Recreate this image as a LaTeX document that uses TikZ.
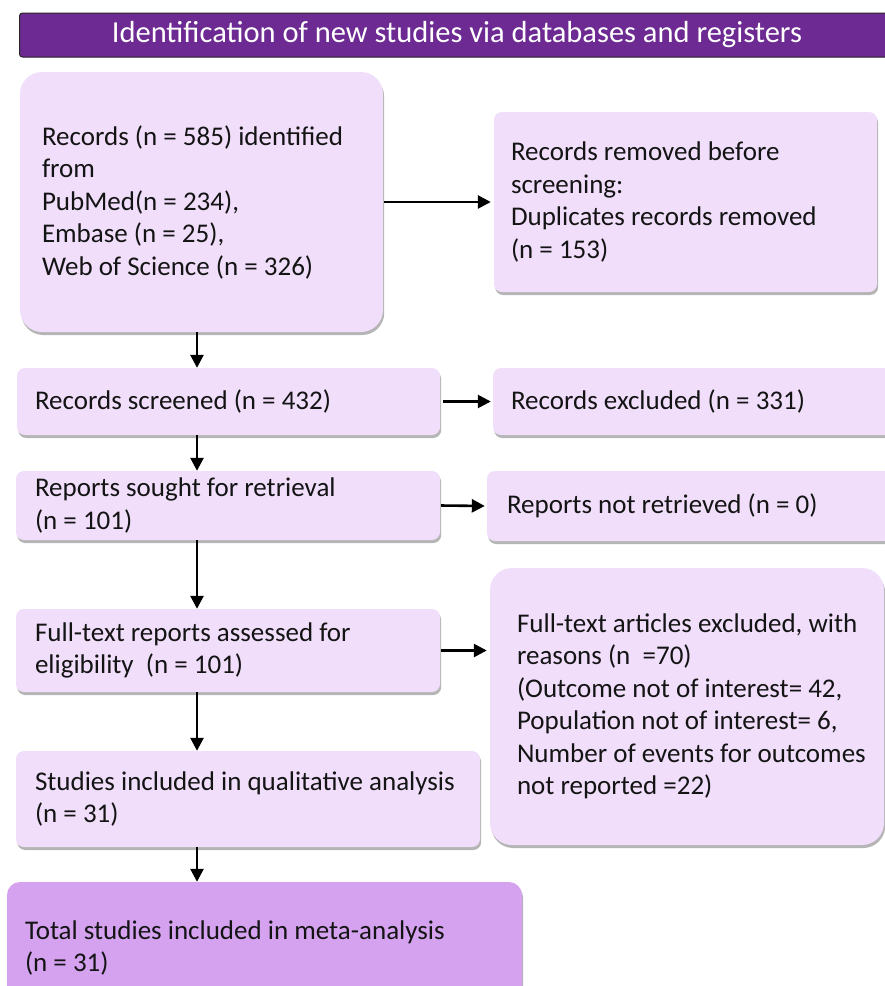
\documentclass[tikz,border=0pt]{standalone}
\usepackage{fontspec}
\setmainfont{Carlito}
\usetikzlibrary{arrows.meta,shadows}
\definecolor{hdrpurple}{RGB}{108,42,146}
\definecolor{lav}{RGB}{240,222,250}
\definecolor{lavdark}{RGB}{213,162,240}
\definecolor{shadowgray}{RGB}{90,90,90}
\tikzset{
  sh/.style={drop shadow={shadow xshift=1.2pt,shadow yshift=-3pt,opacity=0.45,fill=shadowgray}},
  box/.style={rectangle,fill=lav,draw=none,rounded corners=8pt,sh,inner sep=0pt},
  bigbox/.style={box,rounded corners=22pt},
  finalbox/.style={box,fill=lavdark,rounded corners=13pt},
  txt/.style={anchor=west,align=left,inner sep=0pt,text=black!92,font=\fontsize{27}{32.5}\selectfont},
  arr/.style={-{Triangle[length=13pt,width=13pt]},line width=2.6pt,black},
}
\begin{document}
\begin{tikzpicture}[x=1pt,y=-1pt]
\useasboundingbox (0,0) rectangle (885,986);
\clip (0,0) rectangle (885,986);
% header
\node[rectangle,fill=hdrpurple,draw=black!85,line width=1pt,rounded corners=3pt,
      minimum width=875pt,minimum height=44pt,inner sep=0pt,text=white,
      font=\fontsize{30.5}{34}\selectfont] (hdr) at (457,35) {Identification of new studies via databases and registers};
% coordinate for the vertical spine
\coordinate (spine) at (197,0);
% boxes
\node[bigbox,minimum width=363pt,minimum height=260pt] (b1) at (201.5,202) {};
\node[txt] (t1) at ([xshift=22pt]b1.west) {Records (n = 585) identified\\from\\PubMed(n = 234),\\Embase (n = 25),\\Web of Science (n = 326)};
\node[box,minimum width=383pt,minimum height=180pt] (b2) at (685.5,202) {};
\node[txt] (t2) at ([xshift=17pt]b2.west) {Records removed before\\screening:\\Duplicates records removed\\(n = 153)};
\node[box,minimum width=423pt,minimum height=67pt] (b3) at (228.5,401.5) {};
\node[txt] (t3) at ([xshift=18pt]b3.west) {Records screened (n = 432)};
\node[box,minimum width=400pt,minimum height=67pt] (b4) at (693,401.5) {};
\node[txt] (t4) at ([xshift=18pt]b4.west) {Records excluded (n = 331)};
\node[box,minimum width=424pt,minimum height=69pt] (b5) at (228,505.5) {};
\node[txt] (t5) at ([xshift=19pt]b5.west) {Reports sought for retrieval\\(n = 101)};
\node[box,minimum width=405pt,minimum height=70pt] (b6) at (689.5,506) {};
\node[txt] (t6) at ([xshift=20pt]b6.west) {Reports not retrieved (n = 0)};
\node[box,minimum width=424pt,minimum height=83pt] (b7) at (228,650.5) {};
\node[txt] (t7) at ([xshift=19pt]b7.west) {Full-text reports assessed for\\eligibility~ (n = 101)};
\node[bigbox,minimum width=394pt,minimum height=277pt] (b8) at (687,706.5) {};
\node[txt] (t8) at ([xshift=27pt]b8.west) {Full-text articles excluded, with\\reasons (n~ =70)\\(Outcome not of interest= 42,\\Population not of interest= 6,\\Number of events for outcomes\\not reported =22)};
\node[box,minimum width=464pt,minimum height=96pt] (b9) at (248,799) {};
\node[txt] (t9) at ([xshift=19pt]b9.west) {Studies included in qualitative analysis\\(n = 31)};
\node[finalbox,minimum width=515pt,minimum height=120pt] (b10) at (264.5,942) {};
\node[txt] (t10) at ([xshift=18pt,yshift=-6pt]b10.west) {Total studies included in meta-analysis\\(n = 31)};
% connectors
\draw[arr,shorten <=1pt,shorten >=3pt] (b1.east) -- (b2.west);
\draw[arr,shorten <=3pt,shorten >=2pt] (b3.east) -- (b4.west);
\draw[arr,shorten <=1pt,shorten >=2pt] (b5.east) -- (b6.west);
\draw[arr,shorten <=1pt,shorten >=3pt] (b7.east) -- (b7.east -| b8.west);
\draw[arr] (b1.south -| spine) -- (b3.north -| spine);
\draw[arr] (b3.south -| spine) -- (b5.north -| spine);
\draw[arr] (b5.south -| spine) -- (b7.north -| spine);
\draw[arr] (b7.south -| spine) -- (b9.north -| spine);
\draw[arr] (b9.south -| spine) -- (b10.north -| spine);
\end{tikzpicture}
\end{document}
